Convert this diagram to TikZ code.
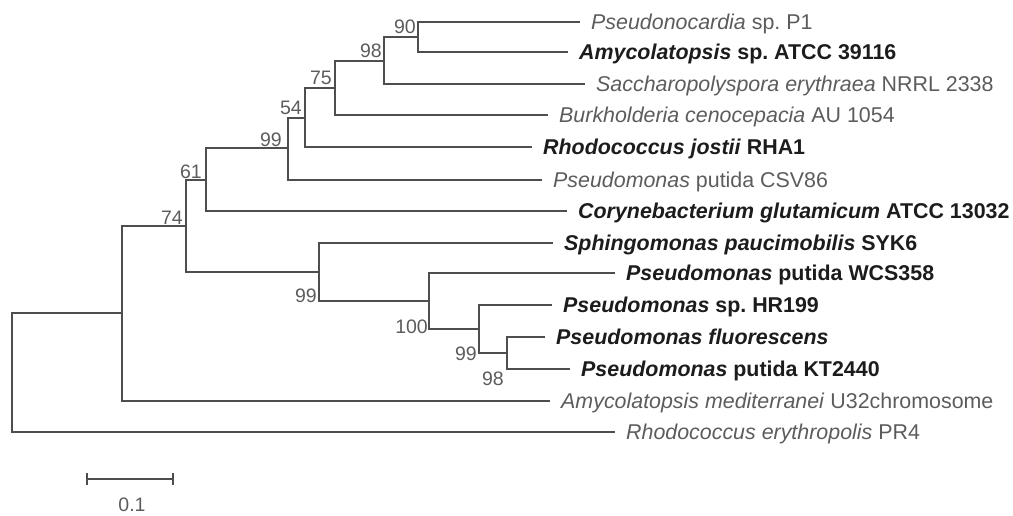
\documentclass[tikz,border=0pt]{standalone}
\usepackage{fontspec}
\setmainfont{Liberation Sans}
\frenchspacing
\definecolor{linec}{HTML}{4E4E4E}
\definecolor{lightt}{HTML}{5C5C5C}
\definecolor{darkt}{HTML}{1C1C1C}
\tikzset{
  branch/.style={draw=linec, line width=1.4pt},
  leafbase/.style={anchor=west, inner xsep=11pt, inner ysep=0pt, text height=15.3pt, text depth=0pt,
    font=\fontsize{21.4}{24}\selectfont},
  leafreg/.style={leafbase, text=lightt},
  leafbold/.style={leafbase, text=darkt, font=\fontsize{21.4}{24}\selectfont\bfseries},
  boot/.style={inner sep=0pt, text=lightt, font=\fontsize{19.5}{22}\selectfont},
}
\begin{document}
\begin{tikzpicture}[x=1pt,y=-1pt]
\useasboundingbox (0,0) rectangle (1013,516);
% internal nodes
\coordinate (root) at (12,372);
\coordinate (nA) at (122,313);
\coordinate (n74) at (186,226);
\coordinate (n61) at (206,180);
\coordinate (n99a) at (288,148);
\coordinate (n54) at (305,118);
\coordinate (n75) at (335,88);
\coordinate (n98) at (384,61);
\coordinate (n90) at (418,37);
\coordinate (nS) at (319,272);
\coordinate (n100) at (429,301);
\coordinate (n99b) at (479,329);
\coordinate (n98b) at (507,353);
% leaves
\node[leafreg] (l1) at (580,22) {\textit{Pseudonocardia} sp. P1};
\node[leafbold] (l2) at (568,52) {\textit{Amycolatopsis} sp. ATCC 39116};
\node[leafreg] (l3) at (585,84) {\textit{Saccharopolyspora erythraea} NRRL 2338};
\node[leafreg] (l4) at (548,115) {\textit{Burkholderia cenocepacia} AU 1054};
\node[leafbold] (l5) at (532,147) {\textit{Rhodococcus jostii} RHA1};
\node[leafreg] (l6) at (542,180) {\textit{Pseudomonas} putida CSV86};
\node[leafbold] (l7) at (567,211) {\textit{Corynebacterium glutamicum} ATCC 13032};
\node[leafbold] (l8) at (553,243) {\textit{Sphingomonas paucimobilis} SYK6};
\node[leafbold] (l9) at (615,273) {\textit{Pseudomonas} putida WCS358};
\node[leafbold] (l10) at (552,305) {\textit{Pseudomonas} sp. HR199};
\node[leafbold] (l11) at (545,337) {\textit{Pseudomonas fluorescens}};
\node[leafbold] (l12) at (570,369) {\textit{Pseudomonas} putida KT2440};
\node[leafreg] (l13) at (550,401) {\textit{Amycolatopsis mediterranei} U32chromosome};
\node[leafreg] (l14) at (615,432) {\textit{Rhodococcus erythropolis} PR4};
% branches
\draw[branch] (root) |- (nA);
\draw[branch] (root) |- (l14.west);
\draw[branch] (nA) |- (n74);
\draw[branch] (nA) |- (l13.west);
\draw[branch] (n74) |- (n61);
\draw[branch] (n74) |- (nS);
\draw[branch] (n61) |- (n99a);
\draw[branch] (n61) |- (l7.west);
\draw[branch] (n99a) |- (n54);
\draw[branch] (n99a) |- (l6.west);
\draw[branch] (n54) |- (n75);
\draw[branch] (n54) |- (l5.west);
\draw[branch] (n75) |- (n98);
\draw[branch] (n75) |- (l4.west);
\draw[branch] (n98) |- (n90);
\draw[branch] (n98) |- (l3.west);
\draw[branch] (n90) |- (l1.west);
\draw[branch] (n90) |- (l2.west);
\draw[branch] (nS) |- (l8.west);
\draw[branch] (nS) |- (n100);
\draw[branch] (n100) |- (l9.west);
\draw[branch] (n100) |- (n99b);
\draw[branch] (n99b) |- (l10.west);
\draw[branch] (n99b) |- (n98b);
\draw[branch] (n98b) |- (l11.west);
\draw[branch] (n98b) |- (l12.west);
% bootstrap values
\node[boot, anchor=south east] (b90) at (416,34) {90};
\node[boot, anchor=south east] (b98) at (382,58) {98};
\node[boot, anchor=south east] (b75) at (332,85) {75};
\node[boot, anchor=south east] (b54) at (302,115) {54};
\node[boot, anchor=south east] (b99a) at (282,147) {99};
\node[boot, anchor=south east] (b61) at (202,179) {61};
\node[boot, anchor=south east] (b74) at (183,225) {74};
\node[boot, anchor=south east] (b99s) at (317,303) {99};
\node[boot, anchor=south east] (b100) at (428,334) {100};
\node[boot, anchor=south east] (b99b) at (477,361) {99};
\node[boot, anchor=south east] (b98b) at (504,386) {98};
% scale bar
\coordinate (s1) at (87,479);
\coordinate (s2) at (173,479);
\draw[branch] (s1) -- (s2);
\draw[branch] ([yshift=-6pt]s1) -- ([yshift=6pt]s1);
\draw[branch] ([yshift=-6pt]s2) -- ([yshift=6pt]s2);
\node[boot, anchor=center] (sc) at (132,505) {0.1};
\end{tikzpicture}
\end{document}
